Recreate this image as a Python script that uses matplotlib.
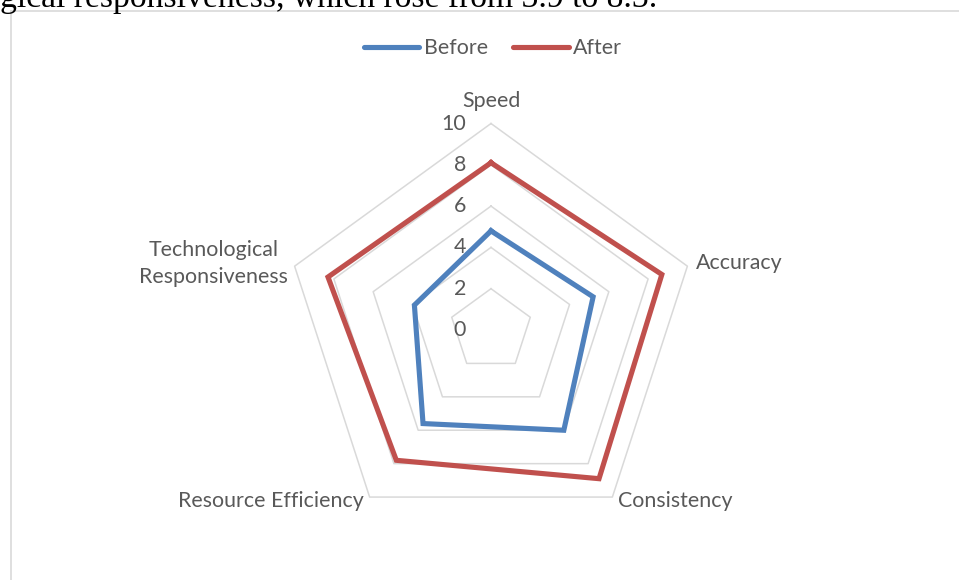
import numpy as np
import matplotlib.pyplot as plt
from matplotlib.lines import Line2D

categories = ['Speed', 'Accuracy', 'Consistency', 'Resource Efficiency',
              'Technological\nResponsiveness']
before = [4.8, 5.2, 6.0, 5.6, 3.9]
after = [8.1, 8.7, 8.9, 7.8, 8.3]
ticks = [0, 2, 4, 6, 8, 10]

W, H = 959, 580
cx, cy = 491, 330      # radar centre in pixels (from top-left)
scale = 20.65          # pixels per unit

grey_text = '#595959'
grid_col = '#d9d9d9'
font = 'Lato'
fs = 15.4


def xy(vals):
    n = len(vals)
    ang = np.pi / 2 - 2 * np.pi * np.arange(n) / n
    v = np.asarray(vals, dtype=float)
    x = v * np.cos(ang)
    y = v * np.sin(ang)
    return np.append(x, x[0]), np.append(y, y[0])


def main():
    fig = plt.figure(figsize=(W / 100, H / 100), dpi=100)
    ax = fig.add_axes([0, 0, 1, 1])
    ax.set_xlim(-cx / scale, (W - cx) / scale)
    ax.set_ylim(-(H - cy) / scale, cy / scale)
    ax.axis('off')

    # pentagon gridlines
    for t in ticks[1:]:
        gx, gy = xy([t] * len(categories))
        ax.plot(gx, gy, color=grid_col, lw=1.1, zorder=1)

    # radial tick labels
    for t in ticks:
        ax.annotate(str(t), (0, t), xytext=(-18, 0), textcoords='offset points',
                    ha='right', va='center', fontsize=fs, color=grey_text,
                    family=font, zorder=2)

    bx, by = xy(before)
    axx, ayy = xy(after)
    ax.plot(bx, by, color='#4f81bd', lw=3.7, solid_joinstyle='miter', zorder=3)
    ax.plot(axx, ayy, color='#c0504d', lw=3.7, solid_joinstyle='miter', zorder=3)

    # category labels, anchored at the outer vertices
    vx, vy = xy([10] * len(categories))
    offsets = [(0, 16), (6, 2), (4, -3), (-4, -3), (-5, 2)]
    aligns = ['center', 'left', 'left', 'right', 'right']
    for i, c in enumerate(categories):
        ax.annotate(c, (vx[i], vy[i]), xytext=offsets[i], textcoords='offset points',
                    ha=aligns[i], va='center', multialignment='center',
                    fontsize=fs, color=grey_text, family=font, linespacing=1.45)

    # legend
    handles = [Line2D([], [], color='#4f81bd', lw=3.7, solid_capstyle='round'),
               Line2D([], [], color='#c0504d', lw=3.7, solid_capstyle='round')]
    fig.legend(handles, ['Before', 'After'], loc='center',
               bbox_to_anchor=(493 / W, 1 - 48 / H), ncol=2, frameon=False,
               prop={'family': font, 'size': fs}, labelcolor=grey_text,
               handlelength=2.6, handletextpad=0.2, columnspacing=1.2)

    # chart frame (partly visible)
    fig.add_artist(Line2D([11 / W, 11 / W], [0, 1 - 11 / H],
                          transform=fig.transFigure, color=grid_col, lw=1.2))
    fig.add_artist(Line2D([11 / W, 1], [1 - 11 / H, 1 - 11 / H],
                          transform=fig.transFigure, color=grid_col, lw=1.2))

    # cut-off document text above the chart
    fig.text(0, 1 - 7 / H, 'gical responsiveness, which rose from 3.9 to 8.3.',
             ha='left', va='baseline', fontsize=24.2, family='Liberation Serif',
             color='black')

    fig.savefig('out.png', dpi=100)


if __name__ == '__main__':
    main()
